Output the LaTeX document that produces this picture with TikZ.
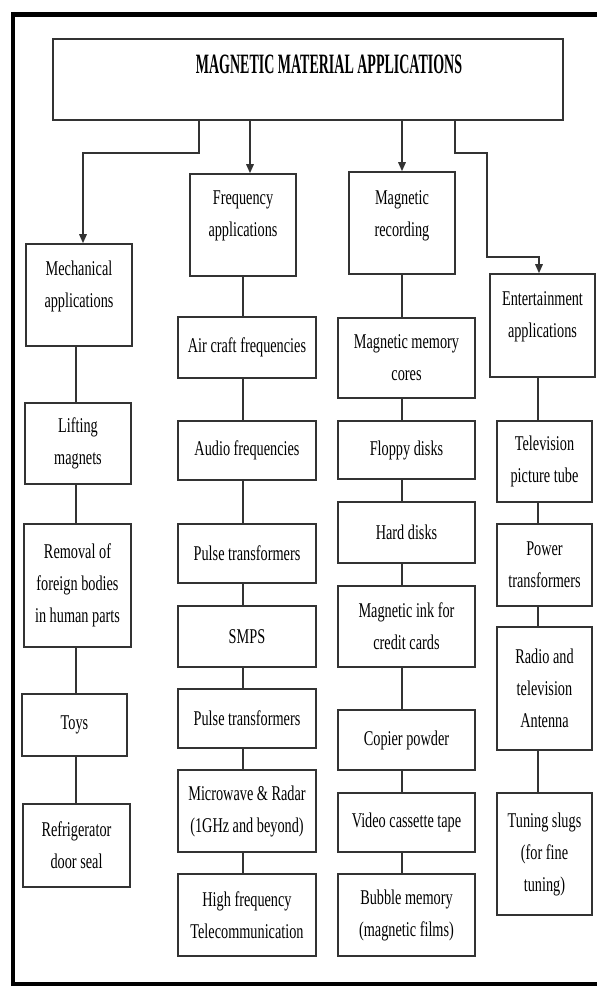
\documentclass[tikz,border=0pt]{standalone}
\usepackage{fontspec}
\setmainfont{Liberation Serif}[FakeStretch=0.68]
\newfontfamily\titlefont{Liberation Serif}[FakeStretch=0.5]
\usetikzlibrary{arrows.meta}
\begin{document}
\begin{tikzpicture}[x=1pt,y=-1pt,
  box/.style={draw=black!80, line width=1.6pt, align=center, inner sep=0pt,
    font=\fontsize{21}{32}\selectfont},
  txt/.style={align=center, inner sep=0pt, font=\fontsize{21}{32}\selectfont},
  conn/.style={draw=black!80, line width=1.6pt},
  arr/.style={conn, -{Triangle[length=9pt,width=7.5pt]}},
  frame/.style={draw=black}]
\useasboundingbox (0,0) rectangle (597,986);
% outer frame
\draw[frame, line width=5.5pt] (11,14.5) -- (600,14.5);
\draw[frame, line width=4pt] (13,11.75) -- (13,990);
\draw[frame, line width=5pt] (11,984.5) -- (600,984.5);

% title
\node[box, minimum width=510pt, minimum height=81pt] (title) at (308,79.5) {};
\node[txt, font=\titlefont\bfseries\fontsize{28}{32}\selectfont] (titletext) at (329,64) {MAGNETIC MATERIAL APPLICATIONS};

% column 1
\node[box, minimum width=106pt, minimum height=102pt] (mech) at (79,295) {};
\node[txt] (mecht) at (79,286) {Mechanical\\applications};
\node[box, minimum width=106pt, minimum height=81pt] (lift) at (78,443.5) {Lifting\\magnets};
\node[box, minimum width=107pt, minimum height=123pt] (remv) at (77.5,585.5) {Removal of\\foreign bodies\\in human parts};
\node[box, minimum width=105pt, minimum height=62pt] (toys) at (74.5,725) {Toys};
\node[box, minimum width=107pt, minimum height=83pt] (refr) at (76.5,845.5) {Refrigerator\\door seal};

% column 2
\node[box, minimum width=106pt, minimum height=102pt] (freq) at (243,225) {};
\node[txt] (freqt) at (243,216) {Frequency\\applications};
\node[box, minimum width=138pt, minimum height=61pt] (air) at (247,347.5) {Air craft frequencies};
\node[box, minimum width=138pt, minimum height=59pt] (audio) at (247,450.5) {Audio frequencies};
\node[box, minimum width=138pt, minimum height=59pt] (pulsea) at (247,553.5) {Pulse transformers};
\node[box, minimum width=138pt, minimum height=61pt] (smps) at (247,636.5) {SMPS};
\node[box, minimum width=138pt, minimum height=59pt] (pulseb) at (247,718.5) {Pulse transformers};
\node[box, minimum width=138pt, minimum height=82pt] (micro) at (247,811) {Microwave \& Radar\\(1GHz and beyond)};
\node[box, minimum width=138pt, minimum height=82pt] (hf) at (247,915) {High frequency\\Telecommunication};

% column 3
\node[box, minimum width=106pt, minimum height=102pt] (rec) at (402,223) {};
\node[txt] (rect) at (402,215.5) {Magnetic\\recording};
\node[box, minimum width=137pt, minimum height=80pt] (mmc) at (406.5,358) {Magnetic memory\\cores};
\node[box, minimum width=137pt, minimum height=58pt] (floppy) at (406.5,450) {Floppy disks};
\node[box, minimum width=137pt, minimum height=61pt] (hard) at (406.5,532.5) {Hard disks};
\node[box, minimum width=137pt, minimum height=81pt] (ink) at (406.5,626.5) {Magnetic ink for\\credit cards};
\node[box, minimum width=137pt, minimum height=60pt] (copier) at (406.5,740) {Copier powder};
\node[box, minimum width=137pt, minimum height=59pt] (video) at (406.5,822.5) {Video cassette tape};
\node[box, minimum width=137pt, minimum height=82pt] (bubble) at (406.5,915) {Bubble memory\\(magnetic films)};

% column 4
\node[box, minimum width=105pt, minimum height=103pt] (ent) at (542.5,325.5) {};
\node[txt] (entt) at (542.5,317) {Entertainment\\applications};
\node[box, minimum width=95pt, minimum height=81pt] (tv) at (544.5,461.5) {Television\\picture tube};
\node[box, minimum width=95pt, minimum height=82pt] (power) at (544.5,565) {Power\\transformers};
\node[box, minimum width=95pt, minimum height=123pt] (radio) at (544.5,688.5) {Radio and\\television\\Antenna};
\node[box, minimum width=95pt, minimum height=122pt] (tuning) at (544.5,854) {Tuning slugs\\(for fine\\tuning)};

% column line positions
\coordinate (c1) at (76,0);
\coordinate (c2) at (243,0);
\coordinate (c3) at (402,0);
\coordinate (c4) at (538,0);

% arrows from title
\coordinate (a1) at (199,153);
\coordinate (b1) at (83,153);
\draw[arr] (title.south -| a1) -- (a1) -- (b1) -- (mech.north -| b1);
\coordinate (a2) at (250,0);
\draw[arr] (title.south -| a2) -- (freq.north -| a2);
\draw[arr] (title.south -| c3) -- (rec.north -| c3);
\coordinate (a4) at (455,153);
\coordinate (b4) at (487,153);
\coordinate (e4) at (487,257);
\coordinate (d4) at (539,257);
\draw[arr] (title.south -| a4) -- (a4) -- (b4) -- (e4) -- (d4) -- (ent.north -| d4);

% column 1 links
\draw[conn] (mech.south -| c1) -- (lift.north -| c1);
\draw[conn] (lift.south -| c1) -- (remv.north -| c1);
\draw[conn] (remv.south -| c1) -- (toys.north -| c1);
\draw[conn] (toys.south -| c1) -- (refr.north -| c1);
% column 2 links
\draw[conn] (freq.south -| c2) -- (air.north -| c2);
\draw[conn] (air.south -| c2) -- (audio.north -| c2);
\draw[conn] (audio.south -| c2) -- (pulsea.north -| c2);
\draw[conn] (pulsea.south -| c2) -- (smps.north -| c2);
\draw[conn] (smps.south -| c2) -- (pulseb.north -| c2);
\draw[conn] (pulseb.south -| c2) -- (micro.north -| c2);
\draw[conn] (micro.south -| c2) -- (hf.north -| c2);
% column 3 links
\draw[conn] (rec.south -| c3) -- (mmc.north -| c3);
\draw[conn] (mmc.south -| c3) -- (floppy.north -| c3);
\draw[conn] (floppy.south -| c3) -- (hard.north -| c3);
\draw[conn] (hard.south -| c3) -- (ink.north -| c3);
\draw[conn] (ink.south -| c3) -- (copier.north -| c3);
\draw[conn] (copier.south -| c3) -- (video.north -| c3);
\draw[conn] (video.south -| c3) -- (bubble.north -| c3);
% column 4 links
\draw[conn] (ent.south -| c4) -- (tv.north -| c4);
\draw[conn] (tv.south -| c4) -- (power.north -| c4);
\draw[conn] (power.south -| c4) -- (radio.north -| c4);
\draw[conn] (radio.south -| c4) -- (tuning.north -| c4);
\end{tikzpicture}
\end{document}
